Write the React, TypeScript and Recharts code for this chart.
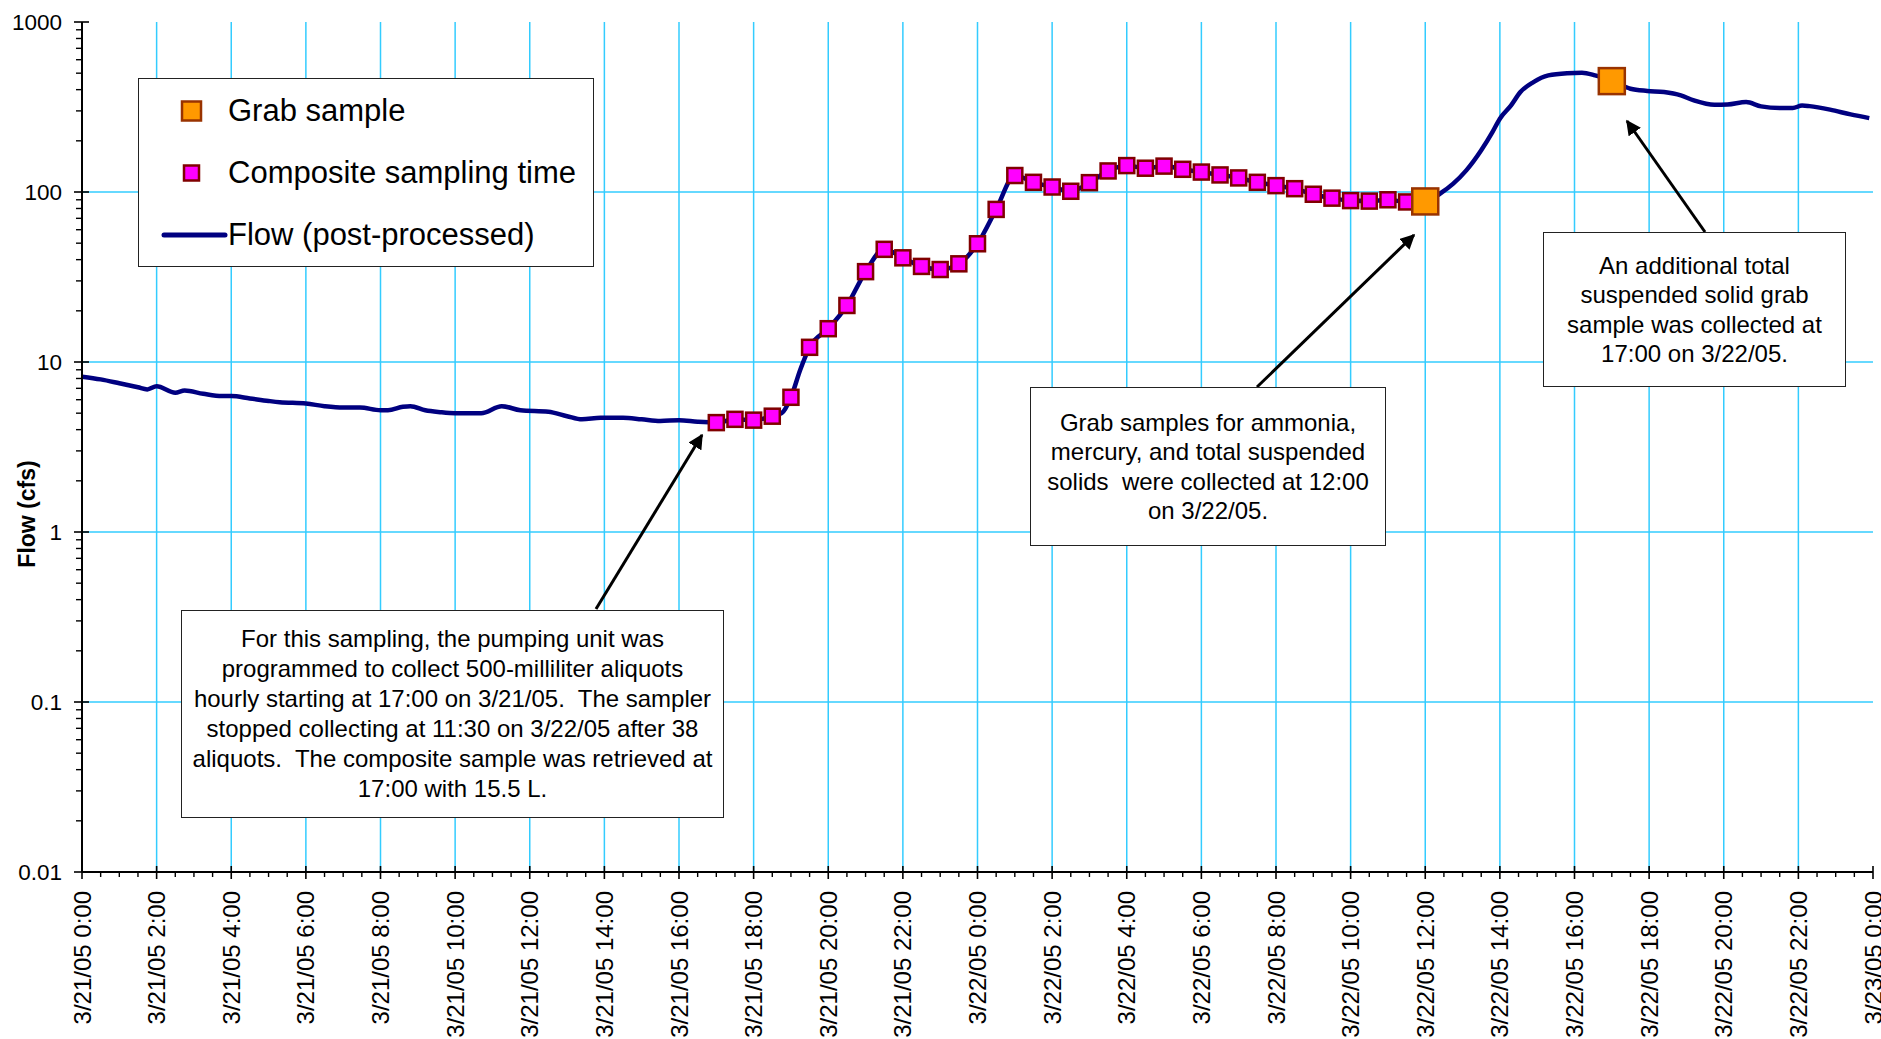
import React from "react";
import { ComposedChart, Line, Scatter, XAxis, YAxis, CartesianGrid, Legend } from "recharts";

const FONT = '"Liberation Sans", Arial, Helvetica, sans-serif';

// hours after 3/21/05 0:00, flow in cfs
const flowHours = [
  0, 0.5, 1, 1.5, 1.75, 2, 2.5, 2.75, 3.25, 3.75, 4, 4.5, 5, 5.3, 6, 6.5, 7, 7.45, 8, 8.2,
  8.6, 8.8, 9.2, 9.6, 10, 10.7, 11.25, 11.75, 12.5, 13, 13.4, 13.9, 14.5, 15, 15.5, 16, 16.5,
  17, 17.5, 18, 18.5, 18.75, 19, 19.25, 19.5, 20, 20.5, 21, 21.5, 22, 22.5, 23, 23.5, 24, 24.5,
  25, 25.5, 26, 26.5, 27, 27.5, 28, 28.5, 29, 29.5, 30, 30.5, 31, 31.5, 32, 32.5, 33, 33.5,
  34, 34.5, 35, 35.5, 36, 36.4, 36.75, 37.1, 37.5, 37.8, 38, 38.3, 38.55, 38.9, 39.3, 39.8,
  40.2, 40.55, 41, 41.5, 41.95, 42.4, 42.85, 43.2, 43.75, 44.1, 44.6, 45, 45.5, 45.85, 46.1,
  46.3, 46.85, 47.4, 47.9,
];
const flowCfs = [
  8.2, 7.9, 7.5, 7.1, 6.9, 7.2, 6.6, 6.8, 6.5, 6.3, 6.3, 6.1, 5.9, 5.8, 5.7, 5.5, 5.4, 5.4, 5.2, 5.2,
  5.45, 5.5, 5.2, 5.07, 5.0, 5.0, 5.5, 5.2, 5.1, 4.8, 4.6, 4.7, 4.7, 4.6, 4.5, 4.55, 4.45,
  4.4, 4.6, 4.55, 4.8, 5.0, 6.2, 9.0, 12.2, 15.7, 21.5, 34, 46, 41, 36.5, 35, 37.8, 49.6, 79,
  125, 114, 107, 101, 113.5, 133, 143, 138, 142, 136, 131, 126, 121, 114, 109, 104.6, 97, 92,
  89, 88.4, 90, 87.4, 88, 98, 112, 134, 176, 225, 270, 323, 387, 443, 485, 500,
  503, 485, 449, 405, 393, 387, 370, 346, 326, 327, 338, 319, 312, 312, 323,
  320, 305, 286, 272,
];

const compositeHours = [
  17, 17.5, 18, 18.5, 19, 19.5, 20, 20.5, 21, 21.5, 22, 22.5, 23, 23.5, 24, 24.5, 25, 25.5, 26,
  26.5, 27, 27.5, 28, 28.5, 29, 29.5, 30, 30.5, 31, 31.5, 32, 32.5, 33, 33.5, 34, 34.5, 35, 35.5,
];
const compositeCfs = [
  4.4, 4.6, 4.55, 4.8, 6.2, 12.2, 15.7, 21.5, 34, 46, 41, 36.5, 35, 37.8, 49.6, 79, 125, 114, 107,
  101, 113.5, 133, 143, 138, 142, 136, 131, 126, 121, 114, 109, 104.6, 97, 92, 89, 88.4, 90, 87.4,
];

const grabHours = [36, 41];
const grabCfs = [88, 449];

const xMajorTicks = [0, 2, 4, 6, 8, 10, 12, 14, 16, 18, 20, 22, 24, 26, 28, 30, 32, 34, 36, 38, 40, 42, 44, 46, 48];
const xTickLabels = [
  "3/21/05 0:00", "3/21/05 2:00", "3/21/05 4:00", "3/21/05 6:00", "3/21/05 8:00", "3/21/05 10:00",
  "3/21/05 12:00", "3/21/05 14:00", "3/21/05 16:00", "3/21/05 18:00", "3/21/05 20:00", "3/21/05 22:00",
  "3/22/05 0:00", "3/22/05 2:00", "3/22/05 4:00", "3/22/05 6:00", "3/22/05 8:00", "3/22/05 10:00",
  "3/22/05 12:00", "3/22/05 14:00", "3/22/05 16:00", "3/22/05 18:00", "3/22/05 20:00", "3/22/05 22:00",
  "3/23/05 0:00",
];
const yMajorTicks = [0.01, 0.1, 1, 10, 100, 1000];
const yTickLabels = ["0.01", "0.1", "1", "10", "100", "1000"];

const legendNames = ["Grab sample", "Composite sampling time", "Flow (post-processed)"];

const notes = [
  {
    lines: [
      "For this sampling, the pumping unit was",
      "programmed to collect 500-milliliter aliquots",
      "hourly starting at 17:00 on 3/21/05.  The sampler",
      "stopped collecting at 11:30 on 3/22/05 after 38",
      "aliquots.  The composite sample was retrieved at",
      "17:00 with 15.5 L.",
    ],
    box: { left: 181, top: 610, width: 543, height: 208 },
    arrow: [596, 609, 702, 435],
  },
  {
    lines: ["Grab samples for ammonia,", "mercury, and total suspended", "solids  were collected at 12:00", "on 3/22/05."],
    box: { left: 1030, top: 387, width: 356, height: 159 },
    arrow: [1257, 387, 1414, 235],
  },
  {
    lines: ["An additional total", "suspended solid grab", "sample was collected at", "17:00 on 3/22/05."],
    box: { left: 1543, top: 232, width: 303, height: 155 },
    arrow: [1705, 232, 1627, 121],
  },
];

// minor tick positions (axis marks only)
const xAllTicks: number[] = [];
for (let i = 0; i <= 96; i++) xAllTicks.push(i / 2);
const yAllTicks: number[] = [];
for (let d = 0; d < 5; d++) {
  for (let m = 1; m <= 9; m++) yAllTicks.push(Number((m * yMajorTicks[d]).toPrecision(3)));
}
yAllTicks.push(1000);

const flowTable = flowHours.map((t, i) => ({ t, flow: flowCfs[i] }));
const compositeTable = compositeHours.map((t, i) => ({ t, v: compositeCfs[i] }));
const grabTable = grabHours.map((t, i) => ({ t, v: grabCfs[i] }));

const XTick = (props: any) => {
  const { x, y, payload } = props;
  const idx = xMajorTicks.indexOf(payload.value);
  if (idx < 0) {
    return <line x1={x} x2={x} y1={y} y2={y + 5} stroke="#000" strokeWidth={1.4} />;
  }
  const ly = y + 19;
  return (
    <g>
      <line x1={x} x2={x} y1={y - 6} y2={y + 7} stroke="#000" strokeWidth={1.6} />
      <text
        x={x}
        y={ly}
        transform={`rotate(-90 ${x} ${ly})`}
        textAnchor="end"
        dominantBaseline="central"
        fontSize={24}
        fontFamily={FONT}
        fill="#000"
      >
        {xTickLabels[idx]}
      </text>
    </g>
  );
};

const YTick = (props: any) => {
  const { x, y, payload } = props;
  const idx = yMajorTicks.indexOf(payload.value);
  if (idx < 0) {
    return <line x1={x - 6} x2={x} y1={y} y2={y} stroke="#000" strokeWidth={1.4} />;
  }
  return (
    <g>
      <line x1={x - 8} x2={x + 7} y1={y} y2={y} stroke="#000" strokeWidth={1.6} />
      <text x={x - 20} y={y} textAnchor="end" dominantBaseline="central" fontSize={22.5} fontFamily={FONT} fill="#000">
        {yTickLabels[idx]}
      </text>
    </g>
  );
};

const CompositeShape = (props: any) => {
  const { cx, cy } = props;
  if (cx == null || cy == null) return null;
  return <rect x={cx - 7.5} y={cy - 7.5} width={15} height={15} fill="#FF00FF" stroke="#800000" strokeWidth={2.5} />;
};

const GrabShape = (props: any) => {
  const { cx, cy } = props;
  if (cx == null || cy == null) return null;
  return <rect x={cx - 13} y={cy - 13} width={26} height={26} fill="#FF9900" stroke="#993300" strokeWidth={2.5} />;
};

const LegendBox = () => {
  const rows = [32, 94, 156];
  return (
    <div
      style={{
        width: 456,
        height: 189,
        boxSizing: "border-box",
        border: "1.5px solid #222",
        background: "#fff",
        position: "relative",
        fontFamily: FONT,
        fontSize: 31,
        color: "#000",
      }}
    >
      <svg width={456} height={189} style={{ position: "absolute", left: 0, top: 0 }}>
        <rect x={43} y={rows[0] - 9.5} width={19} height={19} fill="#FF9900" stroke="#993300" strokeWidth={2.5} />
        <rect x={45} y={rows[1] - 7.5} width={15} height={15} fill="#FF00FF" stroke="#800000" strokeWidth={2.5} />
        <line x1={25} x2={86} y1={rows[2]} y2={rows[2]} stroke="#000080" strokeWidth={5} strokeLinecap="round" />
      </svg>
      {legendNames.map((name, i) => (
        <div
          key={name}
          style={{ position: "absolute", left: 89, top: rows[i] - 19, lineHeight: "38px", whiteSpace: "nowrap" }}
        >
          {name}
        </div>
      ))}
    </div>
  );
};

export default function App() {
  return (
    <div style={{ position: "relative", width: 1881, height: 1039, background: "#fff", overflow: "hidden" }}>
      <style>{`body{margin:0;overflow:hidden;}`}</style>
      <ComposedChart width={1881} height={1039} data={flowTable} margin={{ top: 22, right: 8, bottom: 0, left: 0 }}>
        <CartesianGrid
          verticalValues={[2, 4, 6, 8, 10, 12, 14, 16, 18, 20, 22, 24, 26, 28, 30, 32, 34, 36, 38, 40, 42, 44, 46]}
          horizontalValues={[0.1, 1, 10, 100]}
          stroke="#33CCFF"
          strokeWidth={1.5}
        />
        <XAxis
          dataKey="t"
          type="number"
          domain={[0, 48]}
          ticks={xAllTicks}
          interval={0}
          height={167}
          tickSize={0}
          tickMargin={0}
          tickLine={false}
          tick={<XTick />}
          axisLine={{ stroke: "#000", strokeWidth: 2 }}
          allowDataOverflow
        />
        <XAxis
          xAxisId="frame"
          orientation="top"
          type="number"
          domain={[0, 48]}
          height={0}
          tick={false}
          tickLine={false}
          axisLine={{ stroke: "#808080", strokeWidth: 2 }}
        />
        <YAxis
          type="number"
          scale="log"
          domain={[0.01, 1000]}
          ticks={yAllTicks}
          interval={0}
          width={82}
          tickSize={0}
          tickMargin={0}
          tickLine={false}
          tick={<YTick />}
          axisLine={{ stroke: "#000", strokeWidth: 2 }}
          allowDataOverflow
        />
        <YAxis
          yAxisId="frame"
          orientation="right"
          type="number"
          scale="log"
          domain={[0.01, 1000]}
          width={0}
          tick={false}
          tickLine={false}
          axisLine={{ stroke: "#808080", strokeWidth: 2 }}
        />
        <Legend
          layout="vertical"
          align="center"
          verticalAlign="middle"
          wrapperStyle={{ left: 138, top: 78, width: 456, height: 189 }}
          content={() => <LegendBox />}
        />
        <Line
          dataKey="flow"
          type="monotone"
          stroke="#000080"
          strokeWidth={4.5}
          dot={false}
          activeDot={false}
          isAnimationActive={false}
        />
        <Scatter data={compositeTable} dataKey="v" shape={<CompositeShape />} isAnimationActive={false} />
        <Scatter data={grabTable} dataKey="v" shape={<GrabShape />} isAnimationActive={false} />
      </ComposedChart>

      <svg
        width={1881}
        height={1039}
        style={{ position: "absolute", left: 0, top: 0, pointerEvents: "none" }}
      >
        <defs>
          <marker id="head" viewBox="0 0 10 10" refX="9" refY="5" markerWidth="5" markerHeight="5" orient="auto">
            <path d="M0,0 L10,5 L0,10 z" fill="#000" />
          </marker>
        </defs>
        {notes.map((n, i) => (
          <line
            key={i}
            x1={n.arrow[0]}
            y1={n.arrow[1]}
            x2={n.arrow[2]}
            y2={n.arrow[3]}
            stroke="#000"
            strokeWidth={3}
            markerEnd="url(#head)"
          />
        ))}
        <text
          x={27}
          y={514}
          transform="rotate(-90 27 514)"
          textAnchor="middle"
          dominantBaseline="central"
          fontSize={23}
          fontWeight="bold"
          fontFamily={FONT}
          fill="#000"
        >
          Flow (cfs)
        </text>
      </svg>

      {notes.map((n, i) => (
        <div
          key={i}
          style={{
            position: "absolute",
            ...n.box,
            boxSizing: "border-box",
            border: "1.5px solid #222",
            background: "#fff",
            display: "flex",
            flexDirection: "column",
            justifyContent: "center",
            alignItems: "center",
            fontFamily: FONT,
            fontSize: 24,
            lineHeight: i === 0 ? "30px" : "29.5px",
            color: "#000",
          }}
        >
          {n.lines.map((l, j) => (
            <div key={j} style={{ whiteSpace: "pre" }}>
              {l}
            </div>
          ))}
        </div>
      ))}
    </div>
  );
}
